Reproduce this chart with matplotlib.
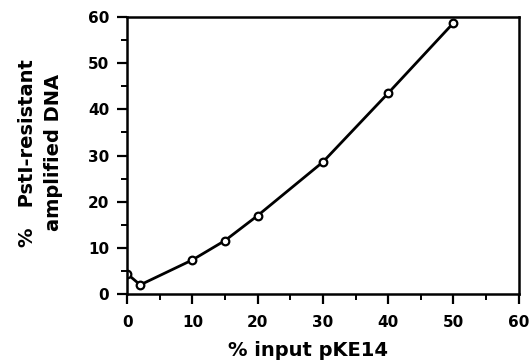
import matplotlib
matplotlib.use('Agg')
import matplotlib.pyplot as plt
from matplotlib.ticker import MultipleLocator

plt.rcParams['font.family'] = ['DejaVu Sans']

# % input pKE14 vs % PstI-resistant amplified DNA
input_pke14 = [0, 2, 10, 15, 20, 30, 40, 50]
resistant = [4.4, 2.0, 7.4, 11.6, 17.0, 28.6, 43.5, 58.7]

xticks = [0, 10, 20, 30, 40, 50, 60]
yticks = [0, 10, 20, 30, 40, 50, 60]

fig = plt.figure(figsize=(5.32, 3.6), dpi=100)
ax = fig.add_axes([0.239, 0.183, 0.736, 0.77])

ax.plot(input_pke14, resistant, color='black', lw=2,
        marker='o', ms=5.5, mfc='white', mec='black', mew=1.6)

ax.set_xlim(0, 60)
ax.set_ylim(0, 60)
ax.set_xticks(xticks)
ax.set_yticks(yticks)
ax.xaxis.set_minor_locator(MultipleLocator(5))
ax.yaxis.set_minor_locator(MultipleLocator(5))
ax.tick_params(which='major', direction='out', length=7, width=1.6,
               labelsize=11)
ax.tick_params(axis='x', which='major', pad=8)
ax.tick_params(axis='y', which='major', pad=6)
ax.tick_params(which='minor', direction='out', length=4, width=1.4)
for lab in ax.get_xticklabels() + ax.get_yticklabels():
    lab.set_fontweight('bold')
for sp in ax.spines.values():
    sp.set_linewidth(1.8)

ax.set_xlabel('% input pKE14', fontsize=14, fontweight='bold')
ax.xaxis.set_label_coords(0.462, -0.168)
ax.set_ylabel('%   PstI-resistant\namplified DNA', fontsize=14,
              fontweight='bold', linespacing=1.45)
ax.yaxis.set_label_coords(-0.165, 0.51)

fig.savefig('out.png', dpi=100)
